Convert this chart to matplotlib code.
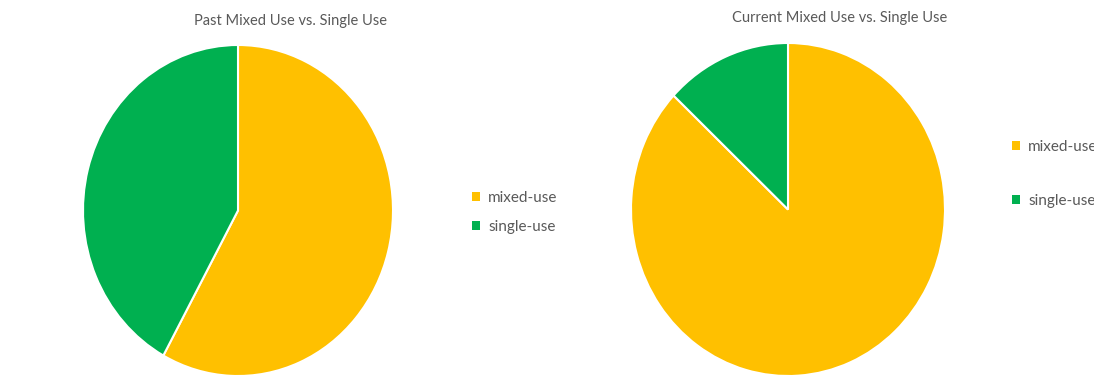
import matplotlib
matplotlib.use("Agg")
import matplotlib.pyplot as plt

# Share of mixed-use vs. single-use, past and current
categories = ["mixed-use", "single-use"]
past_values = [58, 42]
current_values = [87, 13]
titles = ["Past Mixed Use vs. Single Use", "Current Mixed Use vs. Single Use"]

colors = ["#FFC000", "#00B050"]
text_color = "#595959"
font = "Lato"

W, H = 1094, 385
fig = plt.figure(figsize=(W / 100, H / 100), dpi=100)
fig.patch.set_facecolor("white")


def px_axes(x0, y0, x1, y1):
    """Axes from pixel box (top-left origin)."""
    return fig.add_axes([x0 / W, 1 - y1 / H, (x1 - x0) / W, (y1 - y0) / H])


def draw_pie(ax, values):
    wedges, _ = ax.pie(values, colors=colors, startangle=90, counterclock=False,
                       wedgeprops=dict(edgecolor="white", linewidth=1.5))
    ax.set_aspect("auto")
    ax.set_xlim(-1, 1)
    ax.set_ylim(-1, 1)
    return wedges


ax1 = px_axes(83, 45, 393, 376)
w1 = draw_pie(ax1, past_values)
ax2 = px_axes(631, 43, 945, 376)
w2 = draw_pie(ax2, current_values)

fig.text(290 / W, 1 - 21 / H, titles[0], ha="center", va="center",
         fontsize=10.5, color=text_color, family=font)
fig.text(840 / W, 1 - 18 / H, titles[1], ha="center", va="center",
         fontsize=10.5, color=text_color, family=font)

leg_kw = dict(frameon=False, handlelength=0.55, handleheight=0.55,
              handletextpad=0.5, borderaxespad=0, borderpad=0,
              prop=dict(family=font, size=11), labelcolor=text_color)

leg1 = fig.legend(w1, categories, loc="center left",
                  bbox_to_anchor=(472 / W, 1 - 212.5 / H),
                  labelspacing=1.0, **leg_kw)
leg2 = fig.legend(w2, categories, loc="center left",
                  bbox_to_anchor=(1012 / W, 1 - 174 / H),
                  labelspacing=2.6, **leg_kw)
for leg in (leg1, leg2):
    for h in leg.legend_handles:
        h.set_edgecolor("none")

fig.savefig("out.png", dpi=100, facecolor="white")
